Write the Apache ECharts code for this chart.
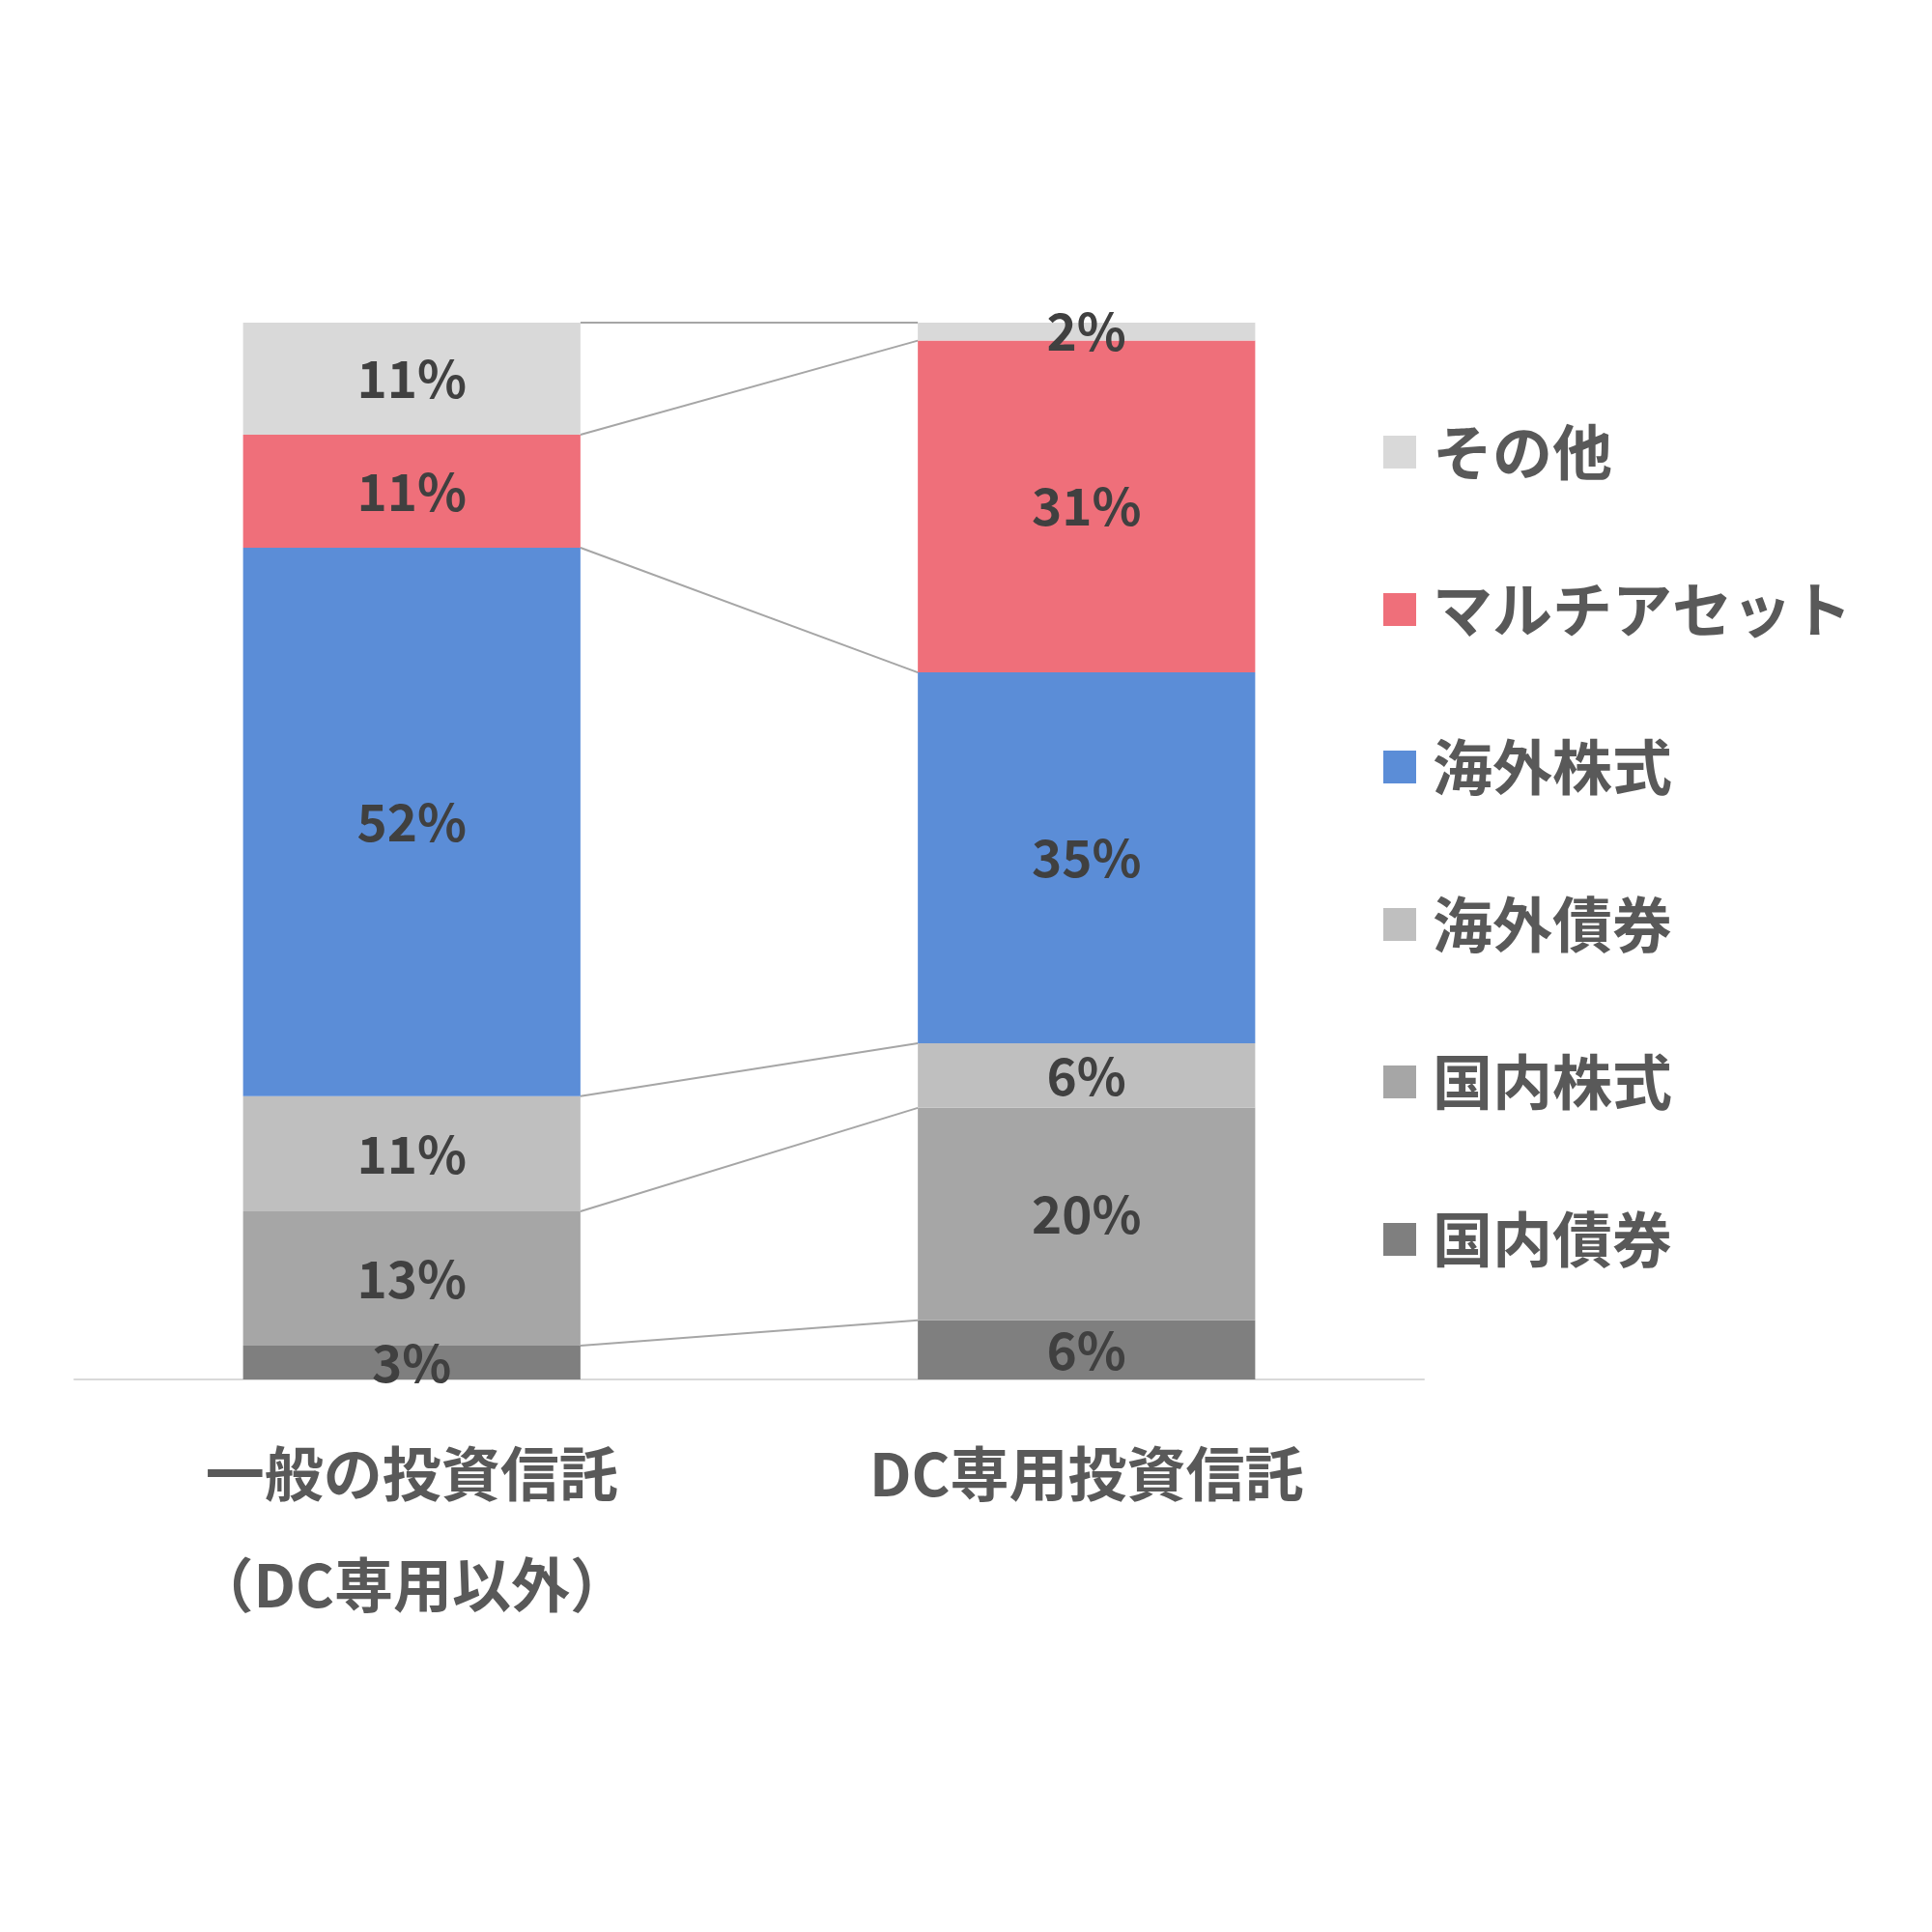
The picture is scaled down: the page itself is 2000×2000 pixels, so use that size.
<!DOCTYPE html>
<html>
<head>
<meta charset="utf-8">
<script src="https://cdn.jsdelivr.net/npm/echarts@6/dist/echarts.min.js"></script>
<style>
  html, body { margin: 0; padding: 0; background: #fff; }
  #canvas { width: 2000px; height: 2000px; }
</style>
</head>
<body>
<div id="canvas"></div>
<script>
const categories = ["一般の投資信託\n（DC専用以外）", "DC専用投資信託"];

// stacked from bottom to top
const assetNames = ["国内債券", "国内株式", "海外債券", "海外株式", "マルチアセット", "その他"];
const assetColors = ["#7f7f7f", "#a6a6a6", "#bfbfbf", "#5b8dd7", "#ef6f7a", "#d9d9d9"];

const domesticBond = [3.2, 5.6];
const domesticEquity = [12.7, 20.1];
const foreignBond = [10.9, 6.1];
const foreignEquity = [51.9, 35.1];
const multiAsset = [10.7, 31.4];
const others = [10.6, 1.7];

const assetValues = [domesticBond, domesticEquity, foreignBond, foreignEquity, multiAsset, others];
const legendOrder = ["その他", "マルチアセット", "海外株式", "海外債券", "国内株式", "国内債券"];

const font = "'Noto Sans CJK JP', 'Noto Sans', sans-serif";

// cumulative tops of each segment for both bars -> connector lines
const boundaries = [];
let cumL = 0, cumR = 0;
assetValues.forEach((vals) => {
  cumL += vals[0];
  cumR += vals[1];
  boundaries.push([0, Math.min(cumL, 100), Math.min(cumR, 100)]);
});

const myChart = echarts.init(document.querySelector("#canvas"));

const barSeries = assetNames.map((name, i) => ({
  name: name,
  type: "bar",
  stack: "total",
  barWidth: "50%",
  data: assetValues[i],
  itemStyle: { color: assetColors[i] },
  label: {
    show: true,
    position: "inside",
    formatter: (p) => Math.round(p.value) + "%",
    fontFamily: font,
    fontWeight: "bold",
    fontSize: 53,
    color: "#404040"
  },
  z: 3
}));

myChart.setOption({
  animation: false,
  backgroundColor: "#fff",
  grid: { left: 77, right: 526, top: 334, bottom: 572 },
  legend: {
    orient: "vertical",
    left: 1427,
    top: 431,
    data: legendOrder,
    icon: "rect",
    itemWidth: 34,
    itemHeight: 34,
    itemGap: 99,
    textStyle: {
      fontFamily: font,
      fontWeight: "bold",
      fontSize: 62,
      lineHeight: 64,
      color: "#595959",
      padding: [0, 0, 0, 12]
    }
  },
  xAxis: {
    type: "category",
    data: categories,
    axisTick: { show: false },
    axisLine: { lineStyle: { color: "#d9d9d9", width: 2 } },
    axisLabel: {
      fontFamily: font,
      fontWeight: "bold",
      fontSize: 61,
      lineHeight: 115,
      color: "#595959",
      margin: 40
    }
  },
  yAxis: {
    type: "value",
    min: 0,
    max: 100,
    show: false,
    splitLine: { show: false }
  },
  series: barSeries.concat([{
    type: "custom",
    name: "connector",
    data: boundaries,
    encode: { x: 0, y: [1, 2] },
    silent: true,
    z: 2,
    renderItem: (params, api) => {
      const half = api.size([1, 0])[0] * 0.25;
      const p0 = api.coord([0, api.value(1)]);
      const p1 = api.coord([1, api.value(2)]);
      return {
        type: "line",
        shape: { x1: p0[0] + half, y1: p0[1], x2: p1[0] - half, y2: p1[1] },
        style: { stroke: "#a6a6a6", lineWidth: 2 }
      };
    }
  }])
});
window.addEventListener("resize", () => myChart.resize());
</script>
</body>
</html>
